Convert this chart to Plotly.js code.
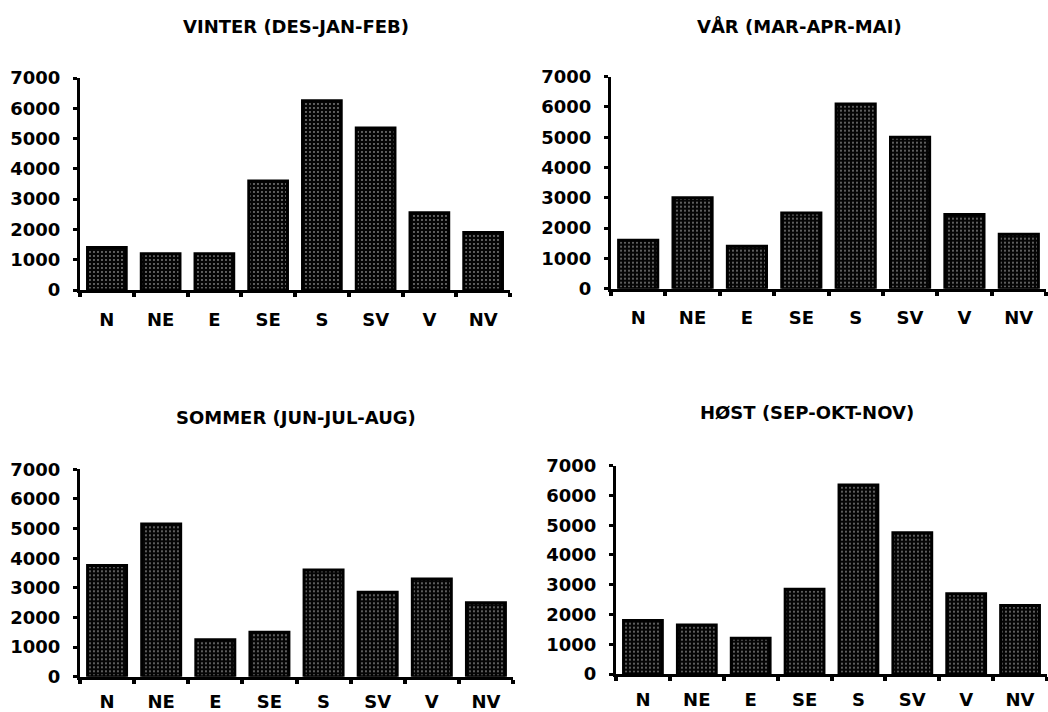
<!DOCTYPE html>
<html>
<head>
<meta charset="utf-8">
<script src="https://cdn.plot.ly/plotly-3.0.1.min.js"></script>
<style>
  html, body { margin: 0; padding: 0; background: #fff; }
  #chart { width: 1048px; height: 712px; }
</style>
</head>
<body>
<div id="chart"></div>
<script>
// Wind directions on the category axis
const directions = ['N', 'NE', 'E', 'SE', 'S', 'SV', 'V', 'NV'];

// Seasonal counts per wind direction
const vinter = [1400, 1200, 1200, 3600, 6250, 5350, 2550, 1900];
const vaar   = [1600, 3000, 1400, 2500, 6100, 5000, 2450, 1800];
const sommer = [3750, 5150, 1250, 1500, 3600, 2850, 3300, 2500];
const hoest  = [1800, 1650, 1200, 2850, 6350, 4750, 2700, 2300];

// Panel titles
const titles = [
  'VINTER (DES-JAN-FEB)',
  'VÅR (MAR-APR-MAI)',
  'SOMMER (JUN-JUL-AUG)',
  'HØST (SEP-OKT-NOV)'
];

const yTicks = [0, 1000, 2000, 3000, 4000, 5000, 6000, 7000];

const W = 1048, H = 712;
const FONT = 'DejaVu Sans, Arial, sans-serif';

// Pixel boxes of the four plot areas: [left, right, top, bottom]
const boxes = [
  [80, 510, 78, 290],
  [611, 1046, 76.7, 288.7],
  [80, 513, 469.3, 676.7],
  [616, 1047, 465.7, 674]
];
// Title centres in pixels
const titlePos = [[296, 26], [799, 26], [296, 417], [807, 412]];
// Gap between x axis and its labels per panel
const xStandoff = [11, 11, 7, 7];

const series = [vinter, vaar, sommer, hoest];

const traces = series.map((vals, i) => ({
  type: 'bar',
  x: directions,
  y: vals,
  xaxis: i === 0 ? 'x' : 'x' + (i + 1),
  yaxis: i === 0 ? 'y' : 'y' + (i + 1),
  width: 0.72,
  marker: {
    color: '#050505',
    line: { color: '#000', width: 3 },
    pattern: {
      shape: '.',
      bgcolor: '#050505',
      fgcolor: '#e6e6e6',
      size: 4,
      solidity: 0.1
    }
  },
  hoverinfo: 'x+y',
  showlegend: false
}));

const layout = {
  width: W,
  height: H,
  autosize: false,
  margin: { l: 0, r: 0, t: 0, b: 0 },
  paper_bgcolor: '#fff',
  plot_bgcolor: '#fff',
  annotations: titles.map((t, i) => ({
    text: t,
    xref: 'paper', yref: 'paper',
    x: titlePos[i][0] / W,
    y: 1 - titlePos[i][1] / H,
    xanchor: 'center', yanchor: 'middle',
    showarrow: false,
    font: { family: FONT, size: 18, weight: 700, color: '#000' }
  }))
};

boxes.forEach((b, i) => {
  const xk = i === 0 ? 'xaxis' : 'xaxis' + (i + 1);
  const yk = i === 0 ? 'yaxis' : 'yaxis' + (i + 1);
  const yRef = i === 0 ? 'y' : 'y' + (i + 1);
  const xRef = i === 0 ? 'x' : 'x' + (i + 1);
  layout[xk] = {
    domain: [b[0] / W, b[1] / W],
    anchor: yRef,
    type: 'category',
    categoryorder: 'array',
    categoryarray: directions,
    range: [-0.5, 7.5],
    showline: true,
    linecolor: '#000',
    linewidth: 3,
    ticks: 'outside',
    tickson: 'boundaries',
    ticklen: 4,
    tickwidth: 4,
    tickcolor: '#000',
    showgrid: false,
    zeroline: false,
    ticklabelstandoff: xStandoff[i],
    tickfont: { family: FONT, size: 18, weight: 700, color: '#000' },
    fixedrange: true
  };
  layout[yk] = {
    domain: [1 - b[3] / H, 1 - b[2] / H],
    anchor: xRef,
    range: [0, 7000],
    tickvals: yTicks,
    ticktext: yTicks.map(String),
    showline: true,
    linecolor: '#000',
    linewidth: 3,
    ticks: 'outside',
    ticklen: 4,
    tickwidth: 3,
    tickcolor: '#000',
    showgrid: false,
    zeroline: false,
    ticklabelstandoff: 9,
    tickfont: { family: FONT, size: 18, weight: 700, color: '#000' },
    fixedrange: true
  };
});

Plotly.newPlot('chart', traces, layout, { displayModeBar: false, staticPlot: true });
</script>
</body>
</html>
